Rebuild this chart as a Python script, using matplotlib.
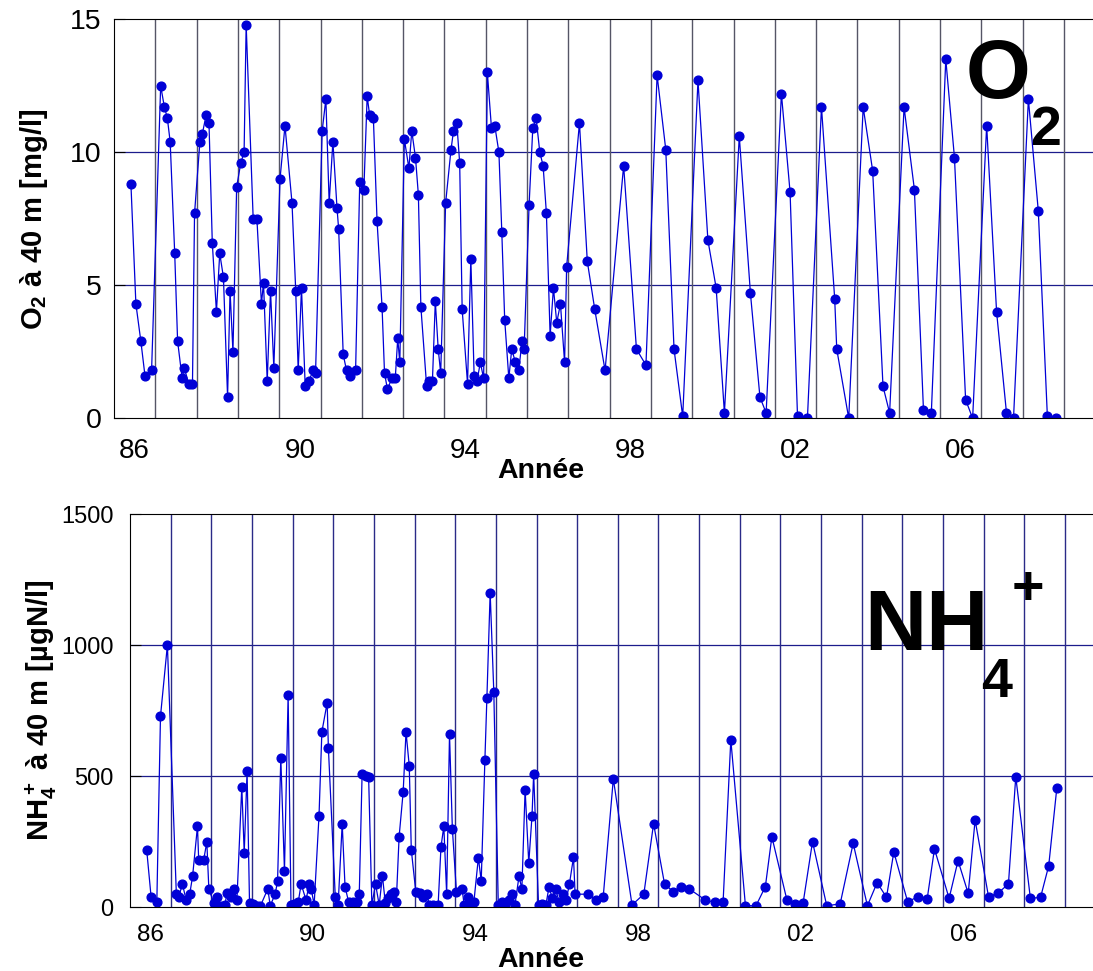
import numpy as np
import matplotlib.pyplot as plt

plt.rcParams['font.family'] = ['Liberation Sans', 'DejaVu Sans']
plt.rcParams['mathtext.fontset'] = 'custom'
plt.rcParams['mathtext.rm'] = 'Liberation Sans'
plt.rcParams['mathtext.bf'] = 'Liberation Sans:bold'

# ---- O2 a 40 m [mg/l]
o2_t = [1986.41, 1986.53, 1986.65, 1986.75, 1986.91, 1987.13, 1987.22, 1987.29, 1987.36, 1987.47,
        1987.54, 1987.65, 1987.70, 1987.81, 1987.90, 1987.95, 1988.08, 1988.14, 1988.23, 1988.30,
        1988.38, 1988.48, 1988.56, 1988.65, 1988.75, 1988.81, 1988.88, 1988.97, 1989.07, 1989.15,
        1989.20, 1989.37, 1989.46, 1989.57, 1989.62, 1989.71, 1989.79, 1989.87, 1990.02, 1990.14,
        1990.31, 1990.40, 1990.46, 1990.54, 1990.63, 1990.71, 1990.83, 1990.88, 1991.04, 1991.13,
        1991.21, 1991.30, 1991.40, 1991.44, 1991.55, 1991.63, 1991.71, 1991.85, 1991.95, 1992.05,
        1992.13, 1992.19, 1992.28, 1992.37, 1992.49, 1992.55, 1992.62, 1992.73, 1992.81, 1992.87,
        1992.92, 1993.03, 1993.14, 1993.21, 1993.30, 1993.37, 1993.43, 1993.57, 1993.63, 1993.71,
        1993.78, 1993.85, 1993.91, 1994.03, 1994.16, 1994.22, 1994.30, 1994.37, 1994.43, 1994.56,
        1994.64, 1994.72, 1994.79, 1994.87, 1994.95, 1995.04, 1995.14, 1995.22, 1995.32, 1995.39,
        1995.46, 1995.56, 1995.63, 1995.72, 1995.80, 1995.88, 1995.93, 1996.05, 1996.14, 1996.22,
        1996.31, 1996.39, 1996.47, 1996.56, 1996.64, 1996.72, 1996.81, 1996.91, 1996.96, 1997.27,
        1997.46, 1997.64, 1997.89, 1998.34, 1998.65, 1998.88, 1999.15, 1999.36, 1999.56, 1999.77,
        2000.14, 2000.38, 2000.58, 2000.78, 2001.14, 2001.41, 2001.64, 2001.79, 2002.16, 2002.37,
        2002.55, 2002.79, 2003.13, 2003.45, 2003.50, 2003.79, 2004.14, 2004.37, 2004.62, 2004.78,
        2005.13, 2005.38, 2005.60, 2005.79, 2006.14, 2006.35, 2006.62, 2006.79, 2007.13, 2007.37,
        2007.61, 2007.78, 2008.14, 2008.38, 2008.60, 2008.80]
o2_v = [8.8, 4.3, 2.9, 1.6, 1.8, 12.5, 11.7, 11.3, 10.4, 6.2,
        2.9, 1.5, 1.9, 1.3, 1.3, 7.7, 10.4, 10.7, 11.4, 11.1,
        6.6, 4.0, 6.2, 5.3, 0.8, 4.8, 2.5, 8.7, 9.6, 10.0,
        14.8, 7.5, 7.5, 4.3, 5.1, 1.4, 4.8, 1.9, 9.0, 11.0,
        8.1, 4.8, 1.8, 4.9, 1.2, 1.4, 1.8, 1.7, 10.8, 12.0,
        8.1, 10.4, 7.9, 7.1, 2.4, 1.8, 1.6, 1.8, 8.9, 8.6,
        12.1, 11.4, 11.3, 7.4, 4.2, 1.7, 1.1, 1.5, 1.5, 3.0,
        2.1, 10.5, 9.4, 10.8, 9.8, 8.4, 4.2, 1.2, 1.4, 1.4,
        4.4, 2.6, 1.7, 8.1, 10.1, 10.8, 11.1, 9.6, 4.1, 1.3,
        6.0, 1.6, 1.4, 2.1, 1.5, 13.0, 10.9, 11.0, 10.0, 7.0,
        3.7, 1.5, 2.6, 2.1, 1.8, 2.9, 2.6, 8.0, 10.9, 11.3,
        10.0, 9.5, 7.7, 3.1, 4.9, 3.6, 4.3, 2.1, 5.7, 11.1,
        5.9, 4.1, 1.8, 9.5, 2.6, 2.0, 12.9, 10.1, 2.6, 0.07,
        12.7, 6.7, 4.9, 0.2, 10.6, 4.7, 0.8, 0.2, 12.2, 8.5,
        0.07, 0.0, 11.7, 4.5, 2.6, 0.0, 11.7, 9.3, 1.2, 0.2,
        11.7, 8.6, 0.3, 0.2, 13.5, 9.8, 0.7, 0.0, 11.0, 4.0,
        0.2, 0.0, 12.0, 7.8, 0.07, 0.0]

# ---- NH4+ a 40 m [ugN/l]
nh4_t = [1986.41, 1986.52, 1986.66, 1986.75, 1986.92, 1987.14, 1987.20, 1987.29, 1987.38, 1987.47,
         1987.54, 1987.66, 1987.69, 1987.81, 1987.89, 1987.94, 1988.06, 1988.13, 1988.25, 1988.34,
         1988.38, 1988.48, 1988.56, 1988.63, 1988.75, 1988.81, 1988.88, 1988.94, 1989.03, 1989.12,
         1989.21, 1989.39, 1989.45, 1989.57, 1989.63, 1989.71, 1989.80, 1989.89, 1989.96, 1990.04,
         1990.14, 1990.21, 1990.33, 1990.41, 1990.46, 1990.53, 1990.65, 1990.72, 1990.85, 1990.88,
         1991.05, 1991.12, 1991.22, 1991.29, 1991.38, 1991.49, 1991.58, 1991.64, 1991.71, 1991.80,
         1991.87, 1991.95, 1992.04, 1992.13, 1992.21, 1992.28, 1992.35, 1992.43, 1992.49, 1992.55,
         1992.62, 1992.72, 1992.79, 1992.87, 1992.92, 1993.03, 1993.13, 1993.22, 1993.31, 1993.36,
         1993.45, 1993.58, 1993.65, 1993.72, 1993.79, 1993.86, 1993.93, 1994.03, 1994.17, 1994.22,
         1994.31, 1994.39, 1994.46, 1994.57, 1994.64, 1994.73, 1994.78, 1994.86, 1994.95, 1995.06,
         1995.14, 1995.23, 1995.32, 1995.40, 1995.47, 1995.57, 1995.64, 1995.72, 1995.81, 1995.89,
         1995.93, 1996.05, 1996.13, 1996.23, 1996.31, 1996.38, 1996.47, 1996.56, 1996.64, 1996.73,
         1996.81, 1996.91, 1996.95, 1997.27, 1997.47, 1997.64, 1997.89, 1998.35, 1998.64, 1998.88,
         1999.15, 1999.36, 1999.55, 1999.76, 2000.15, 2000.38, 2000.59, 2000.78, 2001.14, 2001.40,
         2001.63, 2001.79, 2002.16, 2002.37, 2002.56, 2002.79, 2003.14, 2003.47, 2003.79, 2004.14,
         2004.38, 2004.61, 2004.79, 2005.13, 2005.38, 2005.61, 2005.79, 2006.15, 2006.37, 2006.62,
         2006.79, 2007.12, 2007.36, 2007.61, 2007.79, 2008.15, 2008.40, 2008.60, 2008.80]
nh4_v = [220, 38, 19, 729, 1000, 51, 40, 89, 28, 51,
         119, 309, 179, 179, 249, 69, 18, 40, 6, 9,
         55, 40, 71, 28, 460, 208, 519, 18, 13, 6,
         6, 70, 6, 50, 99, 570, 139, 810, 9, 11,
         21, 89, 28, 89, 69, 9, 350, 669, 780, 609,
         40, 9, 319, 79, 19, 19, 19, 50, 510, 502,
         498, 9, 89, 9, 119, 18, 37, 50, 60, 19,
         269, 440, 669, 539, 219, 60, 53, 38, 51, 9,
         9, 9, 230, 309, 50, 660, 300, 60, 70, 9,
         40, 9, 21, 189, 100, 560, 800, 1200, 821, 9,
         21, 9, 28, 50, 9, 119, 69, 449, 168, 350,
         510, 9, 13, 9, 79, 37, 69, 19, 50, 28,
         89, 191, 50, 50, 28, 38, 490, 9, 50, 319,
         89, 60, 79, 70, 28, 19, 19, 639, 6, 6,
         79, 269, 28, 13, 18, 250, 6, 13, 244, 6,
         94, 38, 211, 21, 40, 31, 223, 34, 178, 53,
         333, 40, 55, 89, 498, 34, 38, 158, 455]

year_ticks = np.arange(1987, 2010)
label_pos = [1986.5, 1990.5, 1994.5, 1998.5, 2002.5, 2006.5]
label_txt = ['86', '90', '94', '98', '02', '06']

W, H = 1093, 971
fig = plt.figure(figsize=(W / 100, H / 100), dpi=100)

def px_box(l, t, r, b):
    return [l / W, 1 - b / H, (r - l) / W, (b - t) / H]

blue = '#0000d6'
hgrid = '#1c1c8c'

#----- O2
ax1 = fig.add_axes(px_box(114, 19.3, 1093, 418.3))
ax1.plot(o2_t, o2_v, '-', color=blue, lw=0.9, marker='o', ms=6.3, mfc=blue, mec=blue)
ax1.set_xlim(1986, 1986 + (1093 - 114) / 41.3)
ax1.set_ylim(0, 15)
ax1.set_yticks([0, 5, 10, 15])
for yv in [5, 10]:
    ax1.axhline(yv, color=hgrid, lw=0.9, zorder=0)
for xv in year_ticks:
    ax1.axvline(xv, color='#555566', lw=1.0, zorder=0)
ax1.set_xticks(label_pos)
ax1.set_xticklabels(label_txt)
ax1.tick_params(axis='x', length=0, labelsize=20, pad=14)
ax1.tick_params(axis='y', direction='in', length=8, labelsize=20.5, pad=9)
ax1.spines['right'].set_visible(False)
ax1.set_ylabel(r'$\mathbf{O_2}$ à 40 m [mg/l]', fontsize=21, fontweight='bold', labelpad=14)
fig.text(541 / W, 1 - 478 / H, 'Année', fontsize=20.5, fontweight='bold', ha='center', va='baseline')
fig.text(966 / W, 1 - 98.3 / H, 'O', fontsize=60, fontweight='bold', ha='left', va='baseline')
fig.text(1030 / W, 1 - 145 / H, '2', fontsize=40, fontweight='bold', ha='left', va='baseline')

#----- NH4+
ax2 = fig.add_axes(px_box(130, 514, 1093, 907.3))
ax2.plot(nh4_t, nh4_v, '-', color=blue, lw=0.9, marker='o', ms=6.3, mfc=blue, mec=blue)
ax2.set_xlim(1986, 1986 + (1093 - 130) / 40.65)
ax2.set_ylim(0, 1500)
ax2.set_yticks([0, 500, 1000, 1500])
for yv in [500, 1000]:
    ax2.axhline(yv, color=hgrid, lw=0.9, zorder=0)
for xv in year_ticks:
    ax2.axvline(xv, color='#2a2a88', lw=1.0, zorder=0)
ax2.set_xticks(label_pos)
ax2.set_xticklabels(label_txt)
ax2.tick_params(axis='x', length=0, labelsize=17.5, pad=12)
ax2.tick_params(axis='y', direction='in', length=8, labelsize=17, pad=12)
ax2.spines['right'].set_visible(False)
ax2.set_ylabel(r'$\mathbf{NH_4^+}$ à 40 m [µgN/l]', fontsize=21, fontweight='bold', labelpad=1.5)
fig.text(541 / W, 1 - 967 / H, 'Année', fontsize=20.5, fontweight='bold', ha='center', va='baseline')
fig.text(864 / W, 1 - 650 / H, 'NH', fontsize=62, fontweight='bold', ha='left', va='baseline')
fig.text(981 / W, 1 - 697 / H, '4', fontsize=40, fontweight='bold', ha='left', va='baseline')
fig.text(1012 / W, 1 - 604 / H, '+', fontsize=40, fontweight='bold', ha='left', va='baseline')

plt.savefig('out.png', dpi=100)
